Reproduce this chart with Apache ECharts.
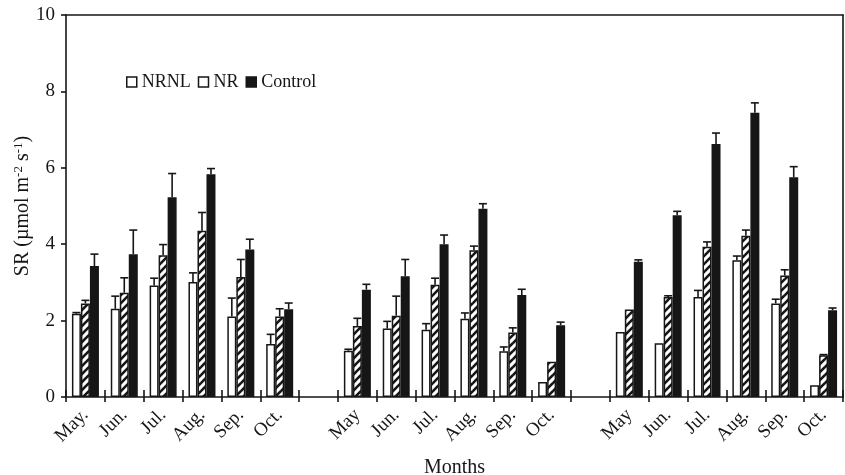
<!DOCTYPE html>
<html>
<head>
<meta charset="utf-8">
<script src="https://cdn.jsdelivr.net/npm/echarts@6/dist/echarts.min.js"></script>
<style>html,body{margin:0;padding:0;background:#fff;}#c{width:845px;height:475px;}</style>
</head>
<body>
<div id="c"></div>
<script>
var categories = ['May.','Jun.','Jul.','Aug.','Sep.','Oct.','','May','Jun.','Jul.','Aug.','Sep.','Oct.','','May','Jun.','Jul.','Aug.','Sep.','Oct.'];
var yTicks = [0, 2, 4, 6, 8, 10];
var nrnl    = [2.18,2.31,2.92,3.01,2.11,1.39,null,1.21,1.79,1.76,2.05,1.20,0.39,null,1.70,1.41,2.62,3.58,2.45,0.31];
var nrnlErr = [0.03,0.33,0.19,0.24,0.48,0.25,null,0.04,0.19,0.16,0.15,0.11,0,null,0,0,0.17,0.11,0.11,0];
var nr      = [2.45,2.73,3.71,4.35,3.14,2.11,null,1.86,2.13,2.94,3.84,1.69,0.92,null,2.29,2.62,3.93,4.22,3.18,1.09];
var nrErr   = [0.08,0.39,0.28,0.48,0.46,0.20,null,0.20,0.51,0.17,0.11,0.12,0,null,0,0.03,0.13,0.15,0.15,0.02];
var control    = [3.43,3.74,5.23,5.83,3.86,2.30,null,2.81,3.16,4.00,4.93,2.67,1.88,null,3.54,4.76,6.62,7.44,5.75,2.27];
var controlErr = [0.31,0.63,0.62,0.15,0.27,0.16,null,0.14,0.44,0.24,0.13,0.15,0.08,null,0.05,0.10,0.29,0.26,0.28,0.06];

var INK = '#161616';
var FONT = '"Liberation Serif", "Times New Roman", serif';
var BW = 9;

// hatch pattern
var pc = document.createElement('canvas');
pc.width = 8; pc.height = 8;
var g = pc.getContext('2d');
g.fillStyle = '#fff'; g.fillRect(0,0,8,8);
g.strokeStyle = INK; g.lineWidth = 2.6; g.lineCap = 'square';
for (var k = -1; k <= 1; k++) {
  g.beginPath(); g.moveTo(k*8 - 1, 9); g.lineTo(k*8 + 9, -1); g.stroke();
}

function errData(vals, errs) {
  var out = [];
  for (var i = 0; i < vals.length; i++) {
    if (vals[i] != null) out.push([i, vals[i], errs[i]]);
  }
  return out;
}
function errSeries(name, vals, errs, offset) {
  return {
    type: 'custom', name: name, xAxisIndex: 0, yAxisIndex: 0, z: 1,
    data: errData(vals, errs),
    encode: { x: 0, y: 1 },
    silent: true,
    renderItem: function (params, api) {
      var idx = api.value(0), v = api.value(1), e = api.value(2);
      if (!(e > 0)) return null;
      var p0 = api.coord([idx, v]);
      var p1 = api.coord([idx, v + e]);
      var x = p0[0] + offset;
      var st = { stroke: INK, lineWidth: 1.6 };
      return { type: 'group', children: [
        { type: 'line', shape: { x1: x, y1: p0[1], x2: x, y2: p1[1] }, style: st },
        { type: 'line', shape: { x1: x - 4, y1: p1[1], x2: x + 4, y2: p1[1] }, style: st }
      ]};
    }
  };
}

var chart = echarts.init(document.getElementById('c'));
chart.setOption({
  animation: false,
  backgroundColor: '#fff',
  grid: { left: 66, right: 2, top: 15, bottom: 78, containLabel: false, outerBoundsMode: 'none' },
  graphic: [{
    type: 'text', x: 23, y: 206, rotation: Math.PI / 2, silent: true,
    style: {
      text: 'SR (µmol m{sup|-2} s{sup|-1})',
      fontFamily: FONT, fontSize: 20, fill: INK, align: 'center', verticalAlign: 'middle',
      rich: { sup: { fontFamily: FONT, fontSize: 13, fill: INK, verticalAlign: 'top', lineHeight: 22, padding: [0,0,8,0] } }
    }
  }],
  legend: {
    left: 121, top: 68, icon: 'rect', itemWidth: 10, itemHeight: 10, itemGap: 7,
    textStyle: { fontFamily: FONT, fontSize: 18, color: INK, padding: [0,0,0,0] },
    data: [
      { name: 'NRNL', itemStyle: { color: '#fff', borderColor: INK, borderWidth: 1.5 } },
      { name: 'NR', itemStyle: { color: '#fff', borderColor: INK, borderWidth: 1.5 } },
      { name: 'Control', itemStyle: { color: INK, borderColor: INK, borderWidth: 1.5 } }
    ]
  },
  xAxis: [
    {
      type: 'category', data: categories, position: 'bottom',
      name: 'Months', nameLocation: 'middle', nameGap: 61, nameMoveOverlap: false,
      nameTextStyle: { fontFamily: FONT, fontSize: 20, color: INK },
      axisLine: { lineStyle: { color: INK, width: 1.6 } },
      axisTick: { show: true, interval: 0, length: 5, lineStyle: { color: INK, width: 1.6 } },
      axisLabel: { interval: 0, rotate: 45, margin: 15, fontFamily: FONT, fontSize: 19, color: INK },
      splitLine: { show: false }
    },
    {
      type: 'category', data: categories, position: 'bottom', gridIndex: 0,
      axisLine: { show: false },
      axisTick: { show: true, inside: true, interval: 0, length: 7, lineStyle: { color: INK, width: 1.6 } },
      axisLabel: { show: false }, splitLine: { show: false }
    },
    {
      type: 'category', data: categories, position: 'top', gridIndex: 0,
      axisLine: { show: true, lineStyle: { color: INK, width: 1.6 } },
      axisTick: { show: false }, axisLabel: { show: false }, splitLine: { show: false }
    }
  ],
  yAxis: [
    {
      type: 'value', min: yTicks[0], max: yTicks[yTicks.length - 1], interval: 2,
      axisLine: { show: true, lineStyle: { color: INK, width: 1.6 } },
      axisTick: { show: true, length: 5, lineStyle: { color: INK, width: 1.6 } },
      axisLabel: { margin: 11, fontFamily: FONT, fontSize: 19, color: INK },
      splitLine: { show: false }
    },
    {
      type: 'value', min: yTicks[0], max: yTicks[yTicks.length - 1], interval: 2, position: 'right',
      axisLine: { show: true, lineStyle: { color: INK, width: 1.6 } },
      axisTick: { show: false }, axisLabel: { show: false }, splitLine: { show: false }
    }
  ],
  series: [
    { name: 'NRNL', type: 'bar', data: nrnl, barWidth: BW, barGap: '0%', z: 2,
      itemStyle: { color: '#fff', borderColor: INK, borderWidth: 1.5 } },
    { name: 'NR', type: 'bar', data: nr, barWidth: BW, barGap: '0%', z: 2,
      itemStyle: { color: { image: pc, repeat: 'repeat' }, borderColor: INK, borderWidth: 1.5 } },
    { name: 'Control', type: 'bar', data: control, barWidth: BW, barGap: '0%', z: 2,
      itemStyle: { color: INK, borderColor: INK, borderWidth: 1.5 } },
    errSeries('e1', nrnl, nrnlErr, -BW),
    errSeries('e2', nr, nrErr, 0),
    errSeries('e3', control, controlErr, BW)
  ]
});
</script>
</body>
</html>
